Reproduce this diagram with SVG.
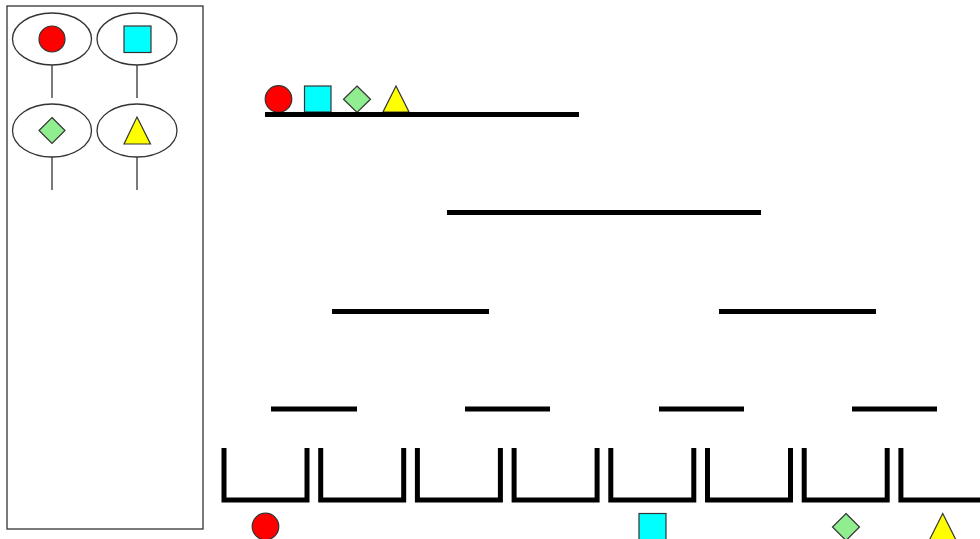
<svg xmlns="http://www.w3.org/2000/svg" width="980" height="539" viewBox="0 0 980 539">
<style>
.sh{stroke:#333;stroke-width:1.2}
.red{fill:#ff0000}.cy{fill:#00ffff}.gr{fill:#90ee90}.ye{fill:#ffff00}
.lvl{stroke:#000;stroke-width:5;fill:none}
.bk{stroke:#000;stroke-width:5;fill:none}
.leg{fill:#fff;stroke:#333;stroke-width:1.3}
.stem{stroke:#333;stroke-width:1.3}
</style>
<rect fill="#fff" width="980" height="539"/>
<g id="legend">
  <rect class="leg" x="7" y="6" width="196" height="523"/>
  <g id="legend-circle">
    <ellipse class="leg" cx="52" cy="39" rx="39.5" ry="26"/>
    <circle class="sh red" cx="52" cy="39" r="13"/>
    <line class="stem" x1="52" y1="65" x2="52" y2="98"/>
  </g>
  <g id="legend-square">
    <ellipse class="leg" cx="137" cy="39" rx="40" ry="26"/>
    <rect class="sh cy" x="124" y="26" width="27" height="26.5"/>
    <line class="stem" x1="137" y1="65" x2="137" y2="98"/>
  </g>
  <g id="legend-diamond">
    <ellipse class="leg" cx="52" cy="130.5" rx="39.5" ry="26.5"/>
    <polygon class="sh gr" points="52,117.5 65,130.5 52,143.5 39,130.5"/>
    <line class="stem" x1="52" y1="157" x2="52" y2="190"/>
  </g>
  <g id="legend-triangle">
    <ellipse class="leg" cx="137" cy="130.5" rx="40" ry="26.5"/>
    <polygon class="sh ye" points="137,117 150.5,144 124,144"/>
    <line class="stem" x1="137" y1="157" x2="137" y2="190"/>
  </g>
</g>
<g id="top-shapes">
  <circle class="sh red" cx="278.5" cy="99" r="13.3"/>
  <rect class="sh cy" x="304.5" y="86" width="26.5" height="26"/>
  <polygon class="sh gr" points="357,86 370.5,99.3 357,112.5 343.5,99.3"/>
  <polygon class="sh ye" points="396,86 409,112 383,112"/>
</g>
<g id="connectors">
  <line class="lvl" x1="265" y1="114.5" x2="579" y2="114.5"/>
  <line class="lvl" x1="447" y1="212.5" x2="761" y2="212.5"/>
  <line class="lvl" x1="332" y1="311.5" x2="489" y2="311.5"/>
  <line class="lvl" x1="719" y1="311.5" x2="876" y2="311.5"/>
  <line class="lvl" x1="271" y1="409" x2="357" y2="409"/>
  <line class="lvl" x1="465" y1="409" x2="550" y2="409"/>
  <line class="lvl" x1="659" y1="409" x2="744" y2="409"/>
  <line class="lvl" x1="852" y1="409" x2="937" y2="409"/>
</g>
<g id="buckets">
  <path class="bk" d="M224,448 V500 H307 V448"/>
  <path class="bk" d="M320.7,448 V500 H403.7 V448"/>
  <path class="bk" d="M417.4,448 V500 H500.4 V448"/>
  <path class="bk" d="M514.1,448 V500 H597.1 V448"/>
  <path class="bk" d="M610.8,448 V500 H693.8 V448"/>
  <path class="bk" d="M707.5,448 V500 H790.5 V448"/>
  <path class="bk" d="M804.2,448 V500 H887.2 V448"/>
  <path class="bk" d="M900.9,448 V500 H983.9 V448"/>
</g>
<g id="bottom-shapes">
  <circle class="sh red" cx="265.5" cy="526.5" r="13.3"/>
  <rect class="sh cy" x="639" y="513.5" width="27" height="27"/>
  <polygon class="sh gr" points="846,513.5 859.5,527 846,540.5 832.5,527"/>
  <polygon class="sh ye" points="942.7,513.5 956,540 929.4,540"/>
</g>
</svg>
